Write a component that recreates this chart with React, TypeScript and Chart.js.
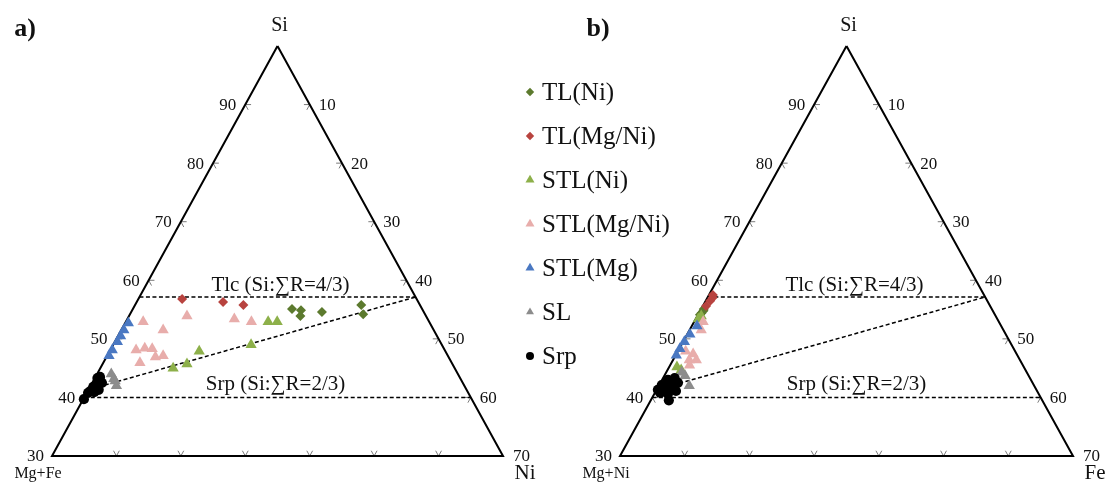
import React, { useEffect, useRef } from 'react';
import { Chart, registerables } from 'chart.js';
import { drawPoint } from 'chart.js/helpers';

Chart.register(...registerables);

// ---------- series meta ----------
const SERIES_LABELS = ['TL(Ni)', 'TL(Mg/Ni)', 'STL(Ni)', 'STL(Mg/Ni)', 'STL(Mg)', 'SL', 'Srp'];
const SERIES_COLORS = ['#5C7A2E', '#B8433F', '#8DB04A', '#E8ADAB', '#4A78C2', '#8C8C8C', '#000000'];
const SERIES_STYLES = ['rectRot', 'rectRot', 'triangle', 'triangle', 'triangle', 'triangle', 'circle'];
const SERIES_RADII = [5, 5, 6.5, 6.5, 6.5, 6.5, 5.1];
const LEGEND_RADII = [4.2, 4.2, 5.2, 5.2, 5.2, 4.6, 4];

// ---------- data, triangle a: [Si, Ni] (%) ----------
const A_TL_NI = [[55.1, 24.7], [54.9, 26.2], [53.9, 26.6], [54.6, 29.6], [55.8, 35.1], [54.2, 36.2]];
const A_TL_MGNI = [[56.8, 6.8], [56.3, 13.4], [55.8, 16.8]];
const A_STL_NI = [[52.9, 22.1], [52.9, 23.5], [49.0, 21.4], [47.9, 13.9], [45.7, 13.1], [45.0, 11.3]];
const A_STL_MGNI = [[52.9, 2.7], [51.5, 6.5], [53.9, 9.0], [53.4, 16.6], [52.9, 19.5], [48.1, 4.0], [48.4, 5.2], [48.3, 6.4], [47.1, 8.7], [46.9, 7.6], [45.9, 5.7]];
const A_STL_MG = [[52.7, 0.5], [51.5, 0.4], [50.5, 0.4], [49.5, 0.4], [48.1, 0.3], [47.1, 0.3]];
const A_SL = [[44.0, 2.2], [43.2, 3.0], [42.8, 3.4], [42.0, 4.0]];
const A_SRP = [[43.3, 0.4], [43.5, 0.7], [42.5, 0.8], [42.5, 1.5], [41.8, 0.5], [41.6, 1.3], [41.3, 1.6], [41.1, 0.4], [40.9, 1.1], [40.8, 0.2], [39.7, 0.1]];

// ---------- data, triangle b: [Si, Fe] (%) ----------
const B_TL_NI = [[54.8, 0.5], [54.1, 0.3], [55.1, 0.4], [54.4, 0.4]];
const B_TL_MGNI = [[57.5, 0.6], [56.5, 0.7], [55.6, 0.5], [57.0, 0.8]];
const B_STL_NI = [[45.2, 1.2], [44.7, 2.1], [53.9, 0.6], [53.4, 0.4]];
const B_STL_MGNI = [[52.9, 1.4], [51.5, 1.8], [47.9, 1.2], [47.4, 2.6], [46.4, 2.5], [46.4, 3.6], [45.5, 3.0]];
const B_STL_MG = [[52.2, 0.8], [50.8, 0.4], [49.5, 0.2], [48.3, 0.1], [47.2, 0.1]];
const B_SL = [[43.7, 3.2], [42.0, 4.7], [44.3, 2.4]];
const B_SRP = [[43.0, 0.9], [43.3, 1.8], [42.1, 0.4], [42.1, 1.7], [42.5, 2.7], [41.3, 0.2], [41.3, 1.3], [41.4, 2.3], [40.8, 0.8], [40.6, 2.1], [41.1, 3.1], [39.5, 2.8]];

const A_SERIES = [A_TL_NI, A_TL_MGNI, A_STL_NI, A_STL_MGNI, A_STL_MG, A_SL, A_SRP];
const B_SERIES = [B_TL_NI, B_TL_MGNI, B_STL_NI, B_STL_MGNI, B_STL_MG, B_SL, B_SRP];

// ---------- axes / reference lines ----------
const SI_MIN = 30;
const LEFT_TICKS = [40, 50, 60, 70, 80, 90];
const RIGHT_TICKS = [10, 20, 30, 40, 50, 60];
const BOTTOM_TICKS = [10, 20, 30, 40, 50, 60];
const TLC_SI = 400 / 7; // Si:ΣR = 4/3
const SRP_SI = 40; // Si:ΣR = 2/3
const SLOPE_START = [41.5, 0.5];
const SLOPE_END = [400 / 7, 300 / 7];
const TLC_LABEL = 'Tlc (Si:\u2211R=4/3)';
const SRP_LABEL = 'Srp (Si:\u2211R=2/3)';

// ---------- layout (pixels) ----------
const W = 1110;
const H = 485;
const A_LEFT_PX = 52;
const A_RIGHT_PX = 503;
const B_LEFT_PX = 620;
const B_RIGHT_PX = 1073;
const TOP_PX = 46;
const BASE_PX = 456;

const SPAN = 100 - SI_MIN; // 70
const cart = (p: number[]) => ({ x: p[1] + (p[0] - SI_MIN) / 2, y: p[0] });

function xRange(leftPx: number, rightPx: number) {
  const k = (rightPx - leftPx) / SPAN;
  return { min: -leftPx / k, max: (W - leftPx) / k };
}
const yK = (BASE_PX - TOP_PX) / SPAN;
const Y_RANGE = { min: SI_MIN - (H - BASE_PX) / yK, max: SI_MIN + BASE_PX / yK };

const FONT = '"Liberation Serif", "Times New Roman", serif';

function txt(ctx: CanvasRenderingContext2D, s: string, x: number, y: number, size: number, align: CanvasTextAlign = 'center', bold = false) {
  ctx.font = `${bold ? 'bold ' : ''}${size}px ${FONT}`;
  ctx.textAlign = align;
  ctx.textBaseline = 'middle';
  ctx.fillStyle = '#111';
  ctx.fillText(s, x, y);
}

function pix(chart: any, xId: string, si: number, ni: number) {
  const c = cart([si, ni]);
  return [chart.scales[xId].getPixelForValue(c.x), chart.scales.y.getPixelForValue(c.y)];
}

function drawTicks(chart: any, xId: string) {
  const ctx = chart.ctx;
  const L = 0.9;
  ctx.save();
  ctx.strokeStyle = '#7a7a7a';
  ctx.lineWidth = 1;
  const seg = (a: number[], b: number[]) => {
    const p = pix(chart, xId, a[0], a[1]);
    const q = pix(chart, xId, b[0], b[1]);
    ctx.beginPath();
    ctx.moveTo(p[0], p[1]);
    ctx.lineTo(q[0], q[1]);
    ctx.stroke();
  };
  BOTTOM_TICKS.forEach((n) => {
    seg([SI_MIN, n], [SI_MIN + L, n]);
    seg([SI_MIN, n], [SI_MIN + L, n - L]);
  });
  LEFT_TICKS.forEach((s) => {
    seg([s, 0], [s, L]);
    seg([s, 0], [s - L, L]);
  });
  RIGHT_TICKS.forEach((n) => {
    const s = 100 - n;
    seg([s, n], [s, n - L]);
    seg([s, n], [s - L, n]);
  });
  ctx.restore();
}

function drawLabels(chart: any, xId: string, o: any) {
  const ctx = chart.ctx;
  const apex = pix(chart, xId, 100, 0);
  const bl = pix(chart, xId, SI_MIN, 0);
  const br = pix(chart, xId, SI_MIN, SPAN);
  txt(ctx, 'Si', apex[0] + 2, apex[1] - 20, 20);
  LEFT_TICKS.forEach((s) => {
    const p = pix(chart, xId, s, 0);
    txt(ctx, String(s), p[0] - 9, p[1] + 1, 17, 'right');
  });
  RIGHT_TICKS.forEach((n) => {
    const p = pix(chart, xId, 100 - n, n);
    txt(ctx, String(n), p[0] + 9, p[1] + 1, 17, 'left');
  });
  txt(ctx, String(SI_MIN), bl[0] - 8, bl[1] + 1, 17, 'right');
  txt(ctx, String(100 - SI_MIN), br[0] + 10, br[1] + 1, 17, 'left');
  txt(ctx, o.leftName, bl[0] - 14, bl[1] + 18, 16);
  txt(ctx, o.rightName, br[0] + 22, br[1] + 17, 21);
  const tlc = pix(chart, xId, TLC_SI, 0);
  const srp = pix(chart, xId, SRP_SI, 0);
  txt(ctx, TLC_LABEL, apex[0] + o.tlcDx, tlc[1] - 12, 21);
  txt(ctx, SRP_LABEL, apex[0] + o.srpDx, srp[1] - 13, 21);
  txt(ctx, o.tag, o.tagX, 29, 26, 'center', true);
}

function drawLegend(chart: any) {
  const ctx = chart.ctx;
  const x0 = 530;
  const y0 = 92;
  const dy = 44;
  SERIES_LABELS.forEach((lab, i) => {
    const y = y0 + i * dy;
    ctx.save();
    ctx.fillStyle = SERIES_COLORS[i];
    ctx.strokeStyle = SERIES_COLORS[i];
    drawPoint(ctx, { pointStyle: SERIES_STYLES[i], radius: LEGEND_RADII[i], rotation: 0, borderWidth: 0 }, x0, y);
    ctx.restore();
    txt(ctx, lab, x0 + 12, y + 1, 25, 'left');
  });
}

const annotPlugin = {
  id: 'ternaryAnnot',
  beforeDatasetsDraw(chart: any) {
    drawTicks(chart, 'xa');
    drawTicks(chart, 'xb');
  },
  afterDatasetsDraw(chart: any) {
    drawLabels(chart, 'xa', { leftName: 'Mg+Fe', rightName: 'Ni', tlcDx: 3, srpDx: -2, tag: 'a)', tagX: 25 });
    drawLabels(chart, 'xb', { leftName: 'Mg+Ni', rightName: 'Fe', tlcDx: 8, srpDx: 10, tag: 'b)', tagX: 598 });
    drawLegend(chart);
  },
};

function lineSet(points: number[][], xId: string, dashed: boolean) {
  return {
    type: 'scatter',
    data: points.map(cart),
    xAxisID: xId,
    yAxisID: 'y',
    showLine: true,
    borderColor: '#000',
    borderWidth: dashed ? 1.5 : 2,
    borderDash: dashed ? [4, 2.5] : [],
    pointRadius: 0,
    fill: false,
    tension: 0,
    order: 50,
  };
}

function buildDatasets() {
  const ds: any[] = [];
  (['xa', 'xb'] as const).forEach((xId) => {
    ds.push(lineSet([[100, 0], [SI_MIN, 0], [SI_MIN, SPAN], [100, 0]], xId, false));
    ds.push(lineSet([[TLC_SI, 0], [TLC_SI, 100 - TLC_SI]], xId, true));
    ds.push(lineSet([[SRP_SI, 0], [SRP_SI, 100 - SRP_SI]], xId, true));
    ds.push(lineSet([SLOPE_START, SLOPE_END], xId, true));
    const series = xId === 'xa' ? A_SERIES : B_SERIES;
    series.forEach((arr, i) => {
      ds.push({
        type: 'scatter',
        label: SERIES_LABELS[i],
        data: arr.map(cart),
        xAxisID: xId,
        yAxisID: 'y',
        pointStyle: SERIES_STYLES[i],
        pointRadius: SERIES_RADII[i],
        backgroundColor: SERIES_COLORS[i],
        borderColor: SERIES_COLORS[i],
        borderWidth: 0,
        showLine: false,
        order: 10 - i,
      });
    });
  });
  return ds;
}

export default function App() {
  const ref = useRef<HTMLCanvasElement | null>(null);
  useEffect(() => {
    if (!ref.current) return;
    const xa = xRange(A_LEFT_PX, A_RIGHT_PX);
    const xb = xRange(B_LEFT_PX, B_RIGHT_PX);
    const chart = new Chart(ref.current, {
      type: 'scatter',
      data: { datasets: buildDatasets() },
      options: {
        animation: false,
        responsive: false,
        events: [],
        layout: { padding: 0, autoPadding: false },
        plugins: { legend: { display: false }, tooltip: { enabled: false } },
        scales: {
          xa: { type: 'linear', position: 'bottom', display: false, min: xa.min, max: xa.max },
          xb: { type: 'linear', position: 'bottom', display: false, min: xb.min, max: xb.max },
          y: { type: 'linear', position: 'left', display: false, min: Y_RANGE.min, max: Y_RANGE.max },
        },
      },
      plugins: [annotPlugin],
    } as any);
    return () => chart.destroy();
  }, []);
  return (
    <div style={{ position: 'absolute', left: 0, top: 0, width: W, height: H, background: '#fff' }}>
      <canvas ref={ref} width={W} height={H} style={{ display: 'block' }} />
    </div>
  );
}
